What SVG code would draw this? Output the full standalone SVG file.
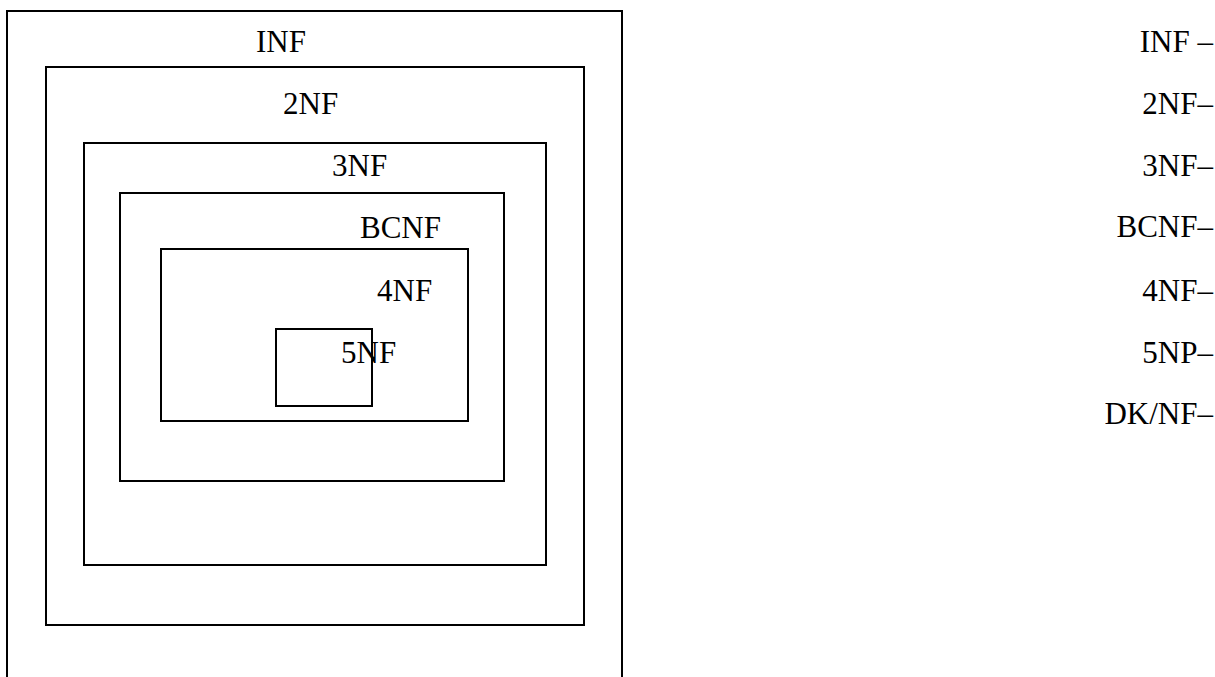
<svg xmlns="http://www.w3.org/2000/svg" width="1215" height="677" viewBox="0 0 1215 677">
<style>
.box{fill:none;stroke:#000;stroke-width:2}
text{font-family:"Liberation Serif","Times New Roman",serif;font-size:31px;fill:#000}
.r{text-anchor:end}
</style>
<rect width="1215" height="677" fill="#fff"/>
<g id="nf1"><rect class="box" x="7" y="11" width="615" height="700"/><text x="256" y="52">INF</text></g>
<g id="nf2"><rect class="box" x="46" y="67" width="538" height="558"/><text x="283" y="114">2NF</text></g>
<g id="nf3"><rect class="box" x="84" y="143" width="462" height="422"/><text x="332" y="176">3NF</text></g>
<g id="bcnf"><rect class="box" x="120" y="193" width="384" height="288"/><text x="360" y="238">BCNF</text></g>
<g id="nf4"><rect class="box" x="161" y="249" width="307" height="172"/><text x="377" y="301">4NF</text></g>
<g id="nf5"><rect class="box" x="276" y="329" width="96" height="77"/><text x="341" y="363">5NF</text></g>
<g id="connectors"></g>
<g id="legend">
<text class="r" x="1213" y="52">INF –</text>
<text class="r" x="1213" y="114">2NF–</text>
<text class="r" x="1213" y="176">3NF–</text>
<text class="r" x="1213" y="237">BCNF–</text>
<text class="r" x="1213" y="301">4NF–</text>
<text class="r" x="1213" y="363">5NP–</text>
<text class="r" x="1213" y="424">DK/NF–</text>
</g>
</svg>
